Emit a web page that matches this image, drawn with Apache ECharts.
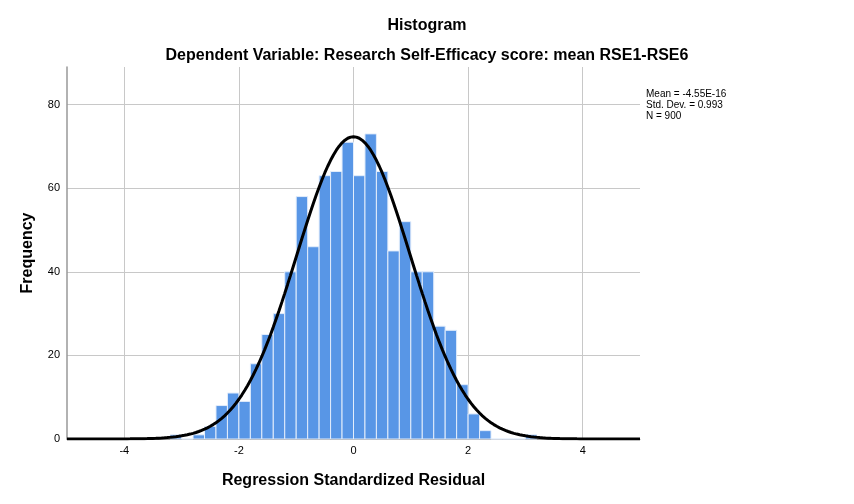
<!DOCTYPE html>
<html lang="en">
<head>
    <meta charset="UTF-8">
    <title>Histogram - Regression Standardized Residual</title>
    <script src="https://cdn.jsdelivr.net/npm/echarts@6/dist/echarts.min.js"></script>
    <style>
        html, body { margin: 0; padding: 0; background: #fff; }
    </style>
</head>
<body>
<div id="main" style="width: 854px;height:504px;"></div>
<script type="text/javascript">
    // bins of 0.2, left edge of each bin
    var binStarts = [-3.2, -3.0, -2.8, -2.6, -2.4, -2.2, -2.0, -1.8, -1.6, -1.4, -1.2, -1.0, -0.8, -0.6, -0.4, -0.2,
                     0.0, 0.2, 0.4, 0.6, 0.8, 1.0, 1.2, 1.4, 1.6, 1.8, 2.0, 2.2, 2.4, 2.6, 2.8, 3.0];
    var frequencies = [1, 0, 1, 3, 8, 11, 9, 18, 25, 30, 40, 58, 46, 63, 64, 71,
                       63, 73, 64, 45, 52, 40, 40, 27, 26, 13, 6, 2, 0, 0, 0, 1];
    var binWidth = 0.2;
    var xTicks = [-4, -2, 0, 2, 4];

    // stats shown in the legend box, also used for the normal curve
    var mean = -4.55e-16;
    var stdDev = 0.993;
    var n = 900;
    var statLines = ['Mean = -4.55E-16', 'Std. Dev. = 0.993', 'N = 900'];

    // normal curve scaled to counts per bin
    var curve = [];
    for (var x = -5; x <= 5.0001; x += 0.05) {
        var z = (x - mean) / stdDev;
        var y = n * binWidth * Math.exp(-0.5 * z * z) / (stdDev * Math.sqrt(2 * Math.PI));
        curve.push([x, y]);
    }

    var bars = binStarts.map(function (s, i) {
        return [s, s + binWidth, frequencies[i]];
    });

    var myChart = echarts.init(document.getElementById('main'));
    var font = 'Liberation Sans, Arial, sans-serif';

    var option = {
        animation: false,
        title: [
            {
                text: 'Histogram',
                left: 'center',
                top: 13,
                textStyle: {fontFamily: font, fontSize: 16, fontWeight: 'bold', color: '#000'}
            },
            {
                text: 'Dependent Variable: Research Self-Efficacy score: mean RSE1-RSE6',
                left: 'center',
                top: 43,
                textStyle: {fontFamily: font, fontSize: 16, fontWeight: 'bold', color: '#000'}
            }
        ],
        graphic: [{
            type: 'text',
            left: 646,
            top: 89,
            style: {
                text: statLines.join('\n'),
                fontFamily: font,
                fontSize: 10,
                lineHeight: 11,
                fill: '#000'
            }
        }],
        grid: {left: 67, right: 214, top: 67, bottom: 65},
        xAxis: {
            type: 'value',
            min: -5,
            max: 5,
            interval: 1,
            name: 'Regression Standardized Residual',
            nameLocation: 'middle',
            nameGap: 34,
            nameTextStyle: {fontFamily: font, fontSize: 16, fontWeight: 'bold', color: '#000'},
            axisLine: {lineStyle: {color: '#999', width: 1}},
            axisTick: {show: false},
            splitLine: {show: false},
            axisLabel: {
                fontFamily: font, fontSize: 11, color: '#000', margin: 6,
                formatter: function (v) {
                    return xTicks.indexOf(v) >= 0 ? String(v) : '';
                }
            }
        },
        yAxis: {
            type: 'value',
            min: 0,
            max: 89,
            interval: 20,
            name: 'Frequency',
            nameLocation: 'middle',
            nameGap: 31,
            nameTextStyle: {fontFamily: font, fontSize: 16, fontWeight: 'bold', color: '#000'},
            axisLine: {show: true, onZero: false, lineStyle: {color: '#999', width: 1.5}},
            axisTick: {show: false},
            axisLabel: {fontFamily: font, fontSize: 11, color: '#000', margin: 7, showMaxLabel: false},
            splitLine: {showMaxLine: false, lineStyle: {color: '#c8c8c8', width: 1}}
        },
        series: [
            {
                type: 'custom',
                z: 2,
                data: bars,
                renderItem: function (params, api) {
                    var p0 = api.coord([api.value(0), api.value(2)]);
                    var p1 = api.coord([api.value(1), 0]);
                    return {
                        type: 'rect',
                        shape: {x: p0[0], y: p0[1], width: p1[0] - p0[0], height: p1[1] - p0[1]},
                        style: {fill: '#5896e6', stroke: '#e3edfb', lineWidth: 1}
                    };
                },
                markLine: {
                    silent: true,
                    symbol: 'none',
                    label: {show: false},
                    z: 1,
                    lineStyle: {color: '#c8c8c8', width: 1, type: 'solid'},
                    data: xTicks.map(function (t) { return {xAxis: t}; })
                }
            },
            {
                type: 'line',
                z: 3,
                data: curve,
                showSymbol: false,
                lineStyle: {color: '#000', width: 3}
            }
        ]
    };

    myChart.setOption(option);
</script>
</body>
</html>
